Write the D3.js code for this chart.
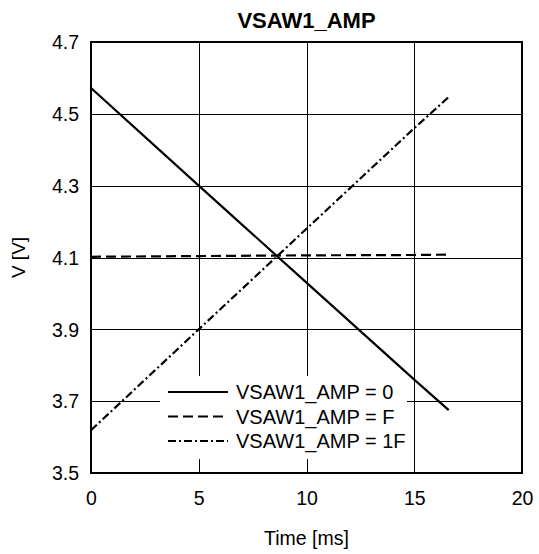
<!DOCTYPE html>
<html>
<head>
<meta charset="utf-8">
<script src="https://cdn.jsdelivr.net/npm/d3@7"></script>
<style>
  body { margin: 0; background: #fff; }
  svg text { font-family: "Liberation Sans", Arial, sans-serif; fill: #000; }
</style>
</head>
<body>
<svg id="chart" width="539" height="554"></svg>
<script>
// chart data
const title = "VSAW1_AMP";
const xTicks = [0, 5, 10, 15, 20];
const yTicks = [3.5, 3.7, 3.9, 4.1, 4.3, 4.5, 4.7];
const timeMs = [0, 5, 10, 15, 16.6];
const ampZero = [4.572, 4.30, 4.03, 3.76, 3.675];
const ampF = [4.102, 4.104, 4.106, 4.107, 4.108];
const amp1F = [3.619, 3.90, 4.18, 4.46, 4.547];
const seriesNames = ["VSAW1_AMP = 0", "VSAW1_AMP = F", "VSAW1_AMP = 1F"];

// plot box (don't call it "top", that's window.top)
const plotL = 91, plotR = 522, plotT = 42, plotB = 473;

var svg = d3.select("#chart");

var x = d3.scaleLinear().domain([0, 20]).range([plotL, plotR]);
var y = d3.scaleLinear().domain([3.5, 4.7]).range([plotB, plotT]);

// grid
var grid = svg.append("g").attr("shape-rendering", "crispEdges");
grid.selectAll(".vx").data(xTicks.slice(1, -1)).enter().append("line")
    .attr("x1", d => Math.round(x(d)) + 0.5).attr("x2", d => Math.round(x(d)) + 0.5)
    .attr("y1", plotT).attr("y2", plotB)
    .attr("stroke", "#000").attr("stroke-width", 1);
grid.selectAll(".hy").data(yTicks.slice(1, -1)).enter().append("line")
    .attr("y1", d => Math.round(y(d)) + 0.5).attr("y2", d => Math.round(y(d)) + 0.5)
    .attr("x1", plotL).attr("x2", plotR)
    .attr("stroke", "#000").attr("stroke-width", 1);

// axes labels (no tick marks)
var xAxis = svg.append("g")
    .attr("transform", "translate(0," + (plotB + 17) + ")")
    .call(d3.axisBottom(x).tickValues(xTicks).tickSize(0).tickFormat(d3.format("d")));
xAxis.select(".domain").remove();
xAxis.selectAll("text").attr("font-size", 19.5).attr("font-family", "Liberation Sans, Arial, sans-serif")
    .attr("y", 15).attr("dy", null);

var yAxis = svg.append("g")
    .attr("transform", "translate(" + (plotL - 12) + ",0)")
    .call(d3.axisLeft(y).tickValues(yTicks).tickSize(0).tickFormat(d3.format(".1f")));
yAxis.select(".domain").remove();
yAxis.selectAll("text").attr("font-size", 19.5).attr("font-family", "Liberation Sans, Arial, sans-serif")
    .attr("x", 0).attr("dy", "0.35em");

// series
var line = d3.line().x((d, i) => x(timeMs[i])).y(d => y(d));
var series = [
    { values: ampZero, dash: null },
    { values: ampF, dash: "10,5" },
    { values: amp1F, dash: "8,3,2,3" }
];
svg.selectAll(".series").data(series).enter().append("path")
    .attr("d", d => line(d.values))
    .attr("fill", "none").attr("stroke", "#000").attr("stroke-width", 2.2)
    .attr("stroke-dasharray", d => d.dash);

// legend (white box hides the grid behind it)
var legend = svg.append("g");
legend.append("rect")
    .attr("x", 160).attr("y", 376).attr("width", 247).attr("height", 83)
    .attr("fill", "#fff");
series.forEach(function (s, i) {
    var ly = 392 + i * 24.5;
    legend.append("line")
        .attr("x1", 168).attr("x2", 228).attr("y1", ly).attr("y2", ly)
        .attr("stroke", "#000").attr("stroke-width", 2.2)
        .attr("stroke-dasharray", s.dash);
    legend.append("text")
        .attr("x", 236).attr("y", ly).attr("dy", "0.36em")
        .attr("font-size", 20).text(seriesNames[i]);
});

// frame
svg.append("rect")
    .attr("x", plotL).attr("y", plotT).attr("width", plotR - plotL).attr("height", plotB - plotT)
    .attr("fill", "none").attr("stroke", "#000").attr("stroke-width", 2);

// titles
svg.append("text").attr("x", (plotL + plotR) / 2).attr("y", 28)
    .attr("text-anchor", "middle").attr("font-size", 22).attr("font-weight", "bold")
    .text(title);
svg.append("text").attr("x", (plotL + plotR) / 2).attr("y", 545)
    .attr("text-anchor", "middle").attr("font-size", 19.5)
    .text("Time [ms]");
svg.append("text")
    .attr("transform", "translate(25," + ((plotT + plotB) / 2) + ") rotate(-90)")
    .attr("text-anchor", "middle").attr("font-size", 19)
    .text("V [V]");
</script>
</body>
</html>
